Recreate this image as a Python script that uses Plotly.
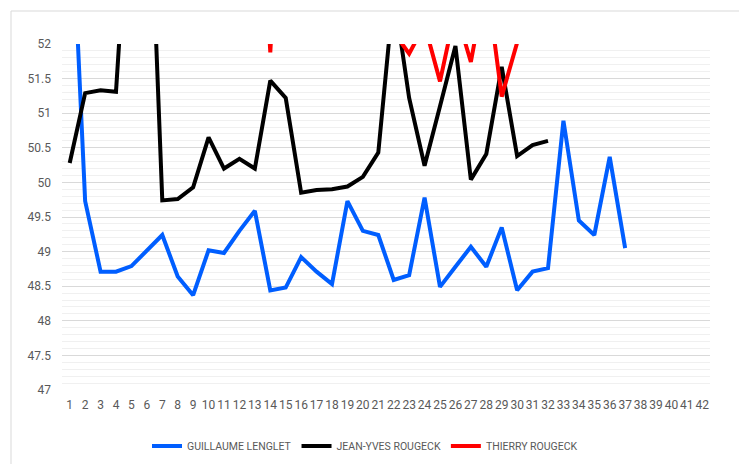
import plotly.graph_objects as go

categories = [str(i) for i in range(1, 43)]

guillaume = [54.6, 49.73, 48.71, 48.71, 48.79, 49.01, 49.24, 48.64, 48.37, 49.02,
             48.98, 49.30, 49.59, 48.44, 48.48, 48.92, 48.71, 48.53, 49.73, 49.30,
             49.24, 48.59, 48.66, 49.78, 48.49, 48.78, 49.07, 48.78, 49.35, 48.44,
             48.71, 48.76, 50.89, 49.45, 49.24, 50.37, 49.05,
             None, None, None, None, None]

jean_yves = [50.28, 51.29, 51.33, 51.31, 54.8, 55.5, 49.74, 49.76, 49.93, 50.65,
             50.20, 50.34, 50.20, 51.47, 51.22, 49.85, 49.89, 49.90, 49.94, 50.08,
             50.43, 52.75, 51.22, 50.24, 51.10, 51.97, 50.04, 50.41, 51.67, 50.38,
             50.54, 50.60,
             None, None, None, None, None, None, None, None, None, None]

thierry = [None] * 12 + [56.0, 51.88, 56.0, 53.5, 53.5, 53.5, 53.5, 53.5,
           53.0, 52.17, 51.86, 52.28, 51.46, 52.5, 51.74, 52.95, 51.24, 52.02] + [None] * 12

series = [
    ("GUILLAUME LENGLET", guillaume, "#005EFF"),
    ("JEAN-YVES ROUGECK", jean_yves, "#000000"),
    ("THIERRY ROUGECK", thierry, "#FF0000"),
]

fig = go.Figure()
for name, vals, color in series:
    fig.add_trace(go.Scatter(
        x=categories, y=vals, name=name, mode="lines",
        line=dict(color=color, width=4), connectgaps=False,
    ))

# The page body has an 8px margin, so the figure is sized/offset to compensate.
W, H = 739, 456
L, R, T, B = 54, 37, 36, 74
pw, ph = W - L - R, H - T - B

font_color = "#595959"
fig.update_layout(
    width=W, height=H,
    margin=dict(l=L, r=R, t=T, b=B, autoexpand=False),
    paper_bgcolor="white", plot_bgcolor="white",
    font=dict(family="Roboto, Arial, sans-serif", size=12, color=font_color),
    showlegend=True,
    legend=dict(orientation="h", xref="container", yref="container",
                x=357 / W, xanchor="center", y=1 - 438 / H, yanchor="middle",
                font=dict(size=10.5, color=font_color), itemwidth=30, tracegroupgap=0),
    xaxis=dict(type="category", categoryorder="array", categoryarray=categories,
               range=[-0.5, 41.5], showgrid=False, zeroline=False, showline=False,
               ticks="", tickfont=dict(size=12, color=font_color), tickangle=0,
               ticklabelstandoff=6, automargin=False, fixedrange=True),
    yaxis=dict(range=[47, 52], dtick=0.5, tick0=47, showgrid=True, gridcolor="#d9d9d9",
               gridwidth=1, zeroline=False, showline=False, ticks="",
               tickfont=dict(size=12, color=font_color), ticklabelstandoff=10,
               automargin=False,
               minor=dict(dtick=0.1, showgrid=True, gridcolor="#f0f0f0", gridwidth=1),
               fixedrange=True),
    shapes=[dict(type="rect", xref="paper", yref="paper",
                 x0=(3 - L) / pw, x1=(733 - L) / pw,
                 y0=(ph + T - 470) / ph, y1=(ph + T - 3) / ph,
                 line=dict(color="#d9d9d9", width=1), fillcolor="rgba(0,0,0,0)",
                 layer="below")],
)

fig.write_html("out.html")
